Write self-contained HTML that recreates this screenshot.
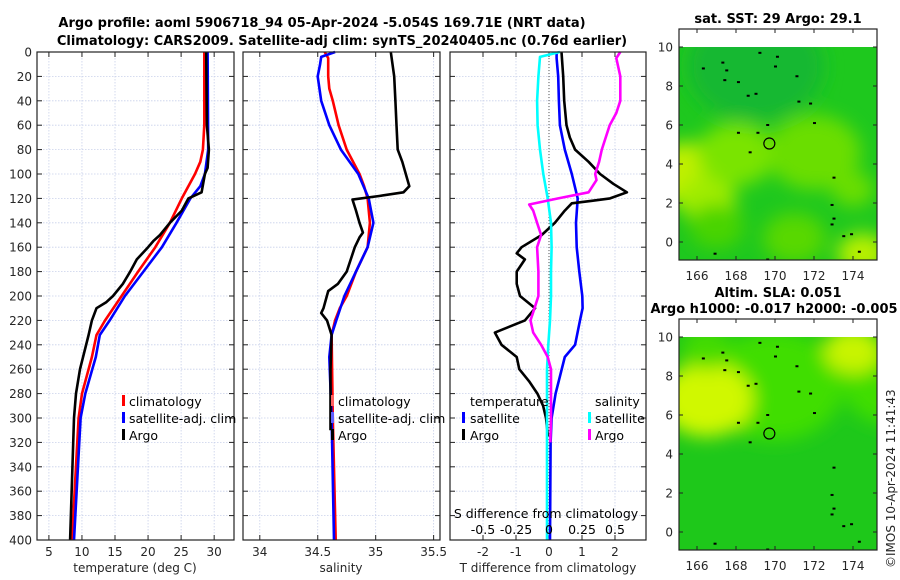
<!DOCTYPE html>
<html><head><meta charset="utf-8">
<style>
body{margin:0;background:#fff;}
svg{display:block;font-family:"DejaVu Sans","Liberation Sans",sans-serif;}
.tk{font-size:12px;fill:#262626;}
.tt{font-size:13px;font-weight:bold;fill:#000;}
.lg{font-size:12.5px;fill:#000;}
</style></head>
<body>
<svg id="c" width="900" height="580" viewBox="0 0 900 580">
<defs>
<filter id="blur" x="-20%" y="-20%" width="140%" height="140%"><feGaussianBlur stdDeviation="9"/></filter>
<clipPath id="m1c"><rect x="679" y="47" width="198" height="213"/></clipPath>
<clipPath id="m2c"><rect x="679" y="337" width="198" height="213"/></clipPath>
</defs>
<text class="tt" x="322" y="27" text-anchor="middle">Argo profile: aoml 5906718_94 05-Apr-2024 -5.054S 169.71E (NRT data)</text>
<text class="tt" x="342" y="45" text-anchor="middle">Climatology: CARS2009. Satellite-adj clim: synTS_20240405.nc (0.76d earlier)</text>
<g id="panels"></g>
<g id="maps"></g>
<text class="tk" x="0" y="0" transform="translate(895,568) rotate(-90)">©IMOS 10-Apr-2024 11:41:43</text>
</svg>
<script>
// ---------- data ----------
const depthTicks=[0,20,40,60,80,100,120,140,160,180,200,220,240,260,280,300,320,340,360,380,400];
const tTicks=[5,10,15,20,25,30];
const sTicks=[34,34.5,35,35.5];
const sTickLabels=["34","34.5","35","35.5"];
const dTicks=[-2,-1,0,1,2];
const dsTicks=[-0.5,-0.25,0,0.25,0.5];
const dsTickLabels=["-0.5","-0.25","0","0.25","0.5"];
// temperature profiles [depth, value]
const tClim=[[0,28.5],[60,28.5],[80,28.3],[90,27.9],[100,27.1],[120,25.1],[140,23.3],[160,21.1],[180,18.5],[200,16.0],[220,13.5],[232,12.2],[250,11.5],[280,10.0],[300,9.5],[400,8.5]];
const tSat=[[0,29.0],[80,29.1],[100,28.6],[110,27.9],[120,26.4],[140,24.3],[160,22.1],[180,19.3],[200,16.5],[220,14.2],[232,12.7],[250,12.1],[280,10.5],[300,9.8],[400,8.8]];
const tArgo=[[0,28.8],[60,28.9],[80,29.2],[95,29.0],[100,28.6],[115,28.1],[120,26.1],[130,25.1],[140,23.3],[150,21.8],[155,20.8],[160,20.0],[170,18.3],[180,17.3],[190,16.2],[200,14.7],[205,13.7],[210,12.2],[220,11.5],[232,11.0],[260,9.7],[280,9.1],[300,8.8],[400,8.2]];
// salinity profiles
const sClim=[[0,34.56],[5,34.59],[20,34.59],[30,34.60],[40,34.63],[60,34.68],[80,34.75],[100,34.86],[110,34.90],[120,34.93],[140,34.95],[160,34.93],[180,34.83],[200,34.75],[210,34.69],[220,34.65],[232,34.62],[300,34.63],[400,34.655]];
const sSat=[[0,34.65],[4,34.53],[10,34.52],[20,34.50],[40,34.53],[60,34.60],[80,34.70],[100,34.85],[120,34.94],[140,34.98],[160,34.93],[180,34.83],[200,34.73],[220,34.66],[232,34.62],[250,34.60],[300,34.62],[400,34.64]];
const sArgo=[[0,35.13],[20,35.16],[40,35.17],[60,35.18],[80,35.19],[90,35.23],[100,35.26],[110,35.29],[115,35.24],[118,35.03],[121,34.80],[130,34.83],[140,34.86],[148,34.89],[152,34.86],[160,34.82],[180,34.75],[190,34.675],[196,34.59],[210,34.55],[214,34.53],[220,34.58],[232,34.62],[260,34.61],[300,34.61],[310,34.61]];
// differences
const dTSat=[[0,0.23],[5,0.23],[20,0.28],[40,0.30],[60,0.33],[80,0.48],[100,0.69],[120,0.87],[140,0.82],[160,0.84],[180,0.92],[200,1.01],[210,1.02],[220,0.94],[240,0.79],[250,0.48],[280,0.2],[300,0.08],[320,0.05],[400,0.03]];
const dTArgo=[[0,0.38],[20,0.43],[40,0.46],[60,0.53],[70,0.63],[80,0.79],[90,1.2],[100,1.55],[108,1.95],[115,2.36],[120,1.85],[122,1.3],[124,0.69],[130,0.48],[140,0.18],[150,-0.22],[160,-0.83],[165,-0.98],[170,-0.73],[180,-0.98],[190,-0.98],[200,-0.88],[210,-0.42],[220,-0.73],[230,-1.64],[240,-1.44],[250,-0.98],[260,-0.9],[270,-0.6],[280,-0.35],[290,-0.18],[300,-0.09],[315,-0.03]];
const dSSat=[[0,0.083],[4,-0.068],[20,-0.08],[40,-0.09],[60,-0.086],[80,-0.068],[100,-0.043],[120,-0.01],[140,0.015],[160,0.02],[180,0.015],[200,0.015],[220,0.008],[240,-0.005],[260,-0.015],[300,-0.015],[400,-0.015]];
const dSArgo=[[0,0.54],[5,0.51],[20,0.54],[40,0.54],[50,0.51],[60,0.46],[80,0.40],[90,0.38],[100,0.35],[105,0.36],[115,0.30],[120,0.07],[125,-0.15],[130,-0.12],[140,-0.09],[150,-0.06],[160,-0.09],[180,-0.08],[200,-0.08],[210,-0.11],[220,-0.14],[230,-0.12],[240,-0.06],[250,-0.01],[260,0.015],[300,0.015],[320,0.01]];
// map data
const lonTicks=[166,168,170,172,174];
const latTicks=[0,2,4,6,8,10];
const argoLon=169.71, argoLat=5.05;
const sstBlobs=[[169,9,3.5,'#14b830'],[165.5,3.5,2.0,'#c0f000'],[166.5,2.2,1.5,'#a0ec00'],[168,4.5,2.0,'#7ae400'],[172,4.6,2.4,'#6ade00'],[174.5,-0.6,1.3,'#b8f000'],[171,0.2,1.6,'#58d800'],[167,0.8,1.4,'#48d400'],[174,2.7,1.1,'#6ade00']];
const slaBlobs=[[170,7.5,3.5,'#40de00'],[176,7.5,2.5,'#40de00'],[166.5,6.8,2.4,'#d0f800'],[174,9.3,1.5,'#c8f400'],[166.5,9.4,1.3,'#44dc00']];
const coast=[[167.3,9.2],[167.5,8.8],[168.1,8.2],[168.6,7.5],[169.0,7.6],[169.6,6.0],[171.2,7.2],[171.8,7.1],[171.1,8.5],[170.1,9.5],[173.0,3.3],[172.9,1.9],[173.0,1.2],[172.9,0.9],[173.5,0.3],[173.9,0.4],[174.3,-0.5],[168.1,5.6],[168.7,4.6],[169.1,5.6],[169.2,9.7],[166.3,8.9],[167.4,8.3],[166.9,-0.6],[169.6,-0.9],[170.0,9.0],[172.0,6.1]];

// ---------- helpers ----------
const NS="http://www.w3.org/2000/svg";
const G=document.getElementById('panels');
const M=document.getElementById('maps');
function mk(tag,attrs,parent){const e=document.createElementNS(NS,tag);for(const k in attrs)e.setAttribute(k,attrs[k]);(parent||G).appendChild(e);return e;}
const Y0=52,Y1=540;
function yD(d){return Y0+(d/400)*(Y1-Y0);}
function lin(d0,d1,r0,r1){return v=>r0+(v-d0)/(d1-d0)*(r1-r0);}
const panels=[
 {x0:37,x1:234,dom:[3.2,33.0],name:'temperature-panel'},
 {x0:243,x1:440,dom:[33.855,35.555],name:'salinity-panel'},
 {x0:450,x1:646,dom:[-3.0,2.94],name:'difference-panel'}];
panels.forEach(p=>p.sx=lin(p.dom[0],p.dom[1],p.x0,p.x1));
const sxDS=lin(-3.0/4,2.94/4,450,646);

function frame(p,ticks,labels,showY){
  const g=mk('g',{});
  
  
  depthTicks.forEach(d=>{const y=yD(d);
    const gl=mk('line',{x1:p.x0,x2:p.x1,y1:y,y2:y,stroke:'#c8d0ea','stroke-width':0.8,'stroke-dasharray':'1.5,1.5'},g);
    
    mk('line',{x1:p.x0,x2:p.x0+5,y1:y,y2:y,stroke:'#222'},g);
    mk('line',{x1:p.x1-5,x2:p.x1,y1:y,y2:y,stroke:'#222'},g);
    if(showY){const t=mk('text',{x:p.x0-5,y:y+4.5,class:'tk','text-anchor':'end'},g);t.textContent=d;
      }
  });
  ticks.forEach((v,i)=>{const x=p.sx(v);
    const gl=mk('line',{x1:x,x2:x,y1:Y0,y2:Y1,stroke:'#c8d0ea','stroke-width':0.8,'stroke-dasharray':'1.5,1.5'},g);
    
    mk('line',{x1:x,x2:x,y1:Y1-5,y2:Y1,stroke:'#222'},g);
    mk('line',{x1:x,x2:x,y1:Y0,y2:Y0+5,stroke:'#222'},g);
    const t=mk('text',{x:x,y:556,class:'tk','text-anchor':'middle'},g);t.textContent=labels[i];
    
  });
  return g;
}
function border(p,g){mk('rect',{x:p.x0,y:Y0,width:p.x1-p.x0,height:Y1-Y0,fill:'none',stroke:'#222','stroke-width':1.2},g);}
function line(data,sx,color,name,g){
  const pts=data.map(r=>sx(r[1]).toFixed(1)+','+yD(r[0]).toFixed(1)).join(' ');
  const l=mk('polyline',{points:pts,fill:'none',stroke:color,'stroke-width':2.6,'stroke-linejoin':'round'},g);
  
  
}
function txt(x,y,s,cls,anchor,name,g){const t=mk('text',{x:x,y:y,class:cls,'text-anchor':anchor||'start'},g);t.textContent=s;
  return t;}
function legMark(x,y,color,g){mk('rect',{x:x,y:y-11,width:3,height:11,fill:color},g);}

// panel 1
let p=panels[0], g=frame(p,tTicks,tTicks.map(String),true);
line(tClim,p.sx,'#ff0000','temp-climatology-line',g);
line(tSat,p.sx,'#0000ff','temp-satellite-line',g);
line(tArgo,p.sx,'#000000','temp-argo-line',g);
border(p,g);
legMark(122,406,'#ff0000',g);txt(129,406,'climatology','lg','start','legend-climatology',g);
legMark(122,423,'#0000ff',g);txt(129,423,'satellite-adj. clim','lg','start','legend-satellite-adj',g);
legMark(122,440,'#000',g);txt(129,440,'Argo','lg','start','legend-argo',g);
txt(135,572,'temperature (deg C)','tk','middle','temperature-axis-title',g);

// panel 2
p=panels[1]; g=frame(p,sTicks,sTickLabels,false);
line(sClim,p.sx,'#ff0000','sal-climatology-line',g);
line(sSat,p.sx,'#0000ff','sal-satellite-line',g);
line(sArgo,p.sx,'#000000','sal-argo-line',g);
border(p,g);
legMark(331,406,'#ff6060',g);txt(338,406,'climatology','lg','start','legend-climatology-2',g);
legMark(331,423,'#6060ff',g);txt(338,423,'satellite-adj. clim','lg','start','legend-satellite-adj-2',g);
legMark(331,440,'#000',g);txt(338,440,'Argo','lg','start','legend-argo-2',g);
txt(341,572,'salinity','tk','middle','salinity-axis-title',g);

// panel 3
p=panels[2]; g=frame(p,dTicks,dTicks.map(String),false);
mk('line',{x1:p.sx(0),x2:p.sx(0),y1:Y0,y2:Y1,stroke:'#555','stroke-width':1,'stroke-dasharray':'1,2'},g);
line(dTSat,p.sx,'#0000ff','dT-satellite-line',g);
line(dTArgo,p.sx,'#000000','dT-argo-line',g);
line(dSSat,sxDS,'#00ffff','dS-satellite-line',g);
line(dSArgo,sxDS,'#ff00ff','dS-argo-line',g);
border(p,g);
txt(470,406,'temperature','lg','start','legend-temperature-header',g);
legMark(462,423,'#0000ff',g);txt(470,423,'satellite','lg','start','legend-dT-satellite',g);
legMark(462,440,'#000',g);txt(470,440,'Argo','lg','start','legend-dT-argo',g);
txt(595,406,'salinity','lg','start','legend-salinity-header',g);
legMark(588,423,'#00ffff',g);txt(595,423,'satellite','lg','start','legend-dS-satellite',g);
legMark(588,440,'#ff00ff',g);txt(595,440,'Argo','lg','start','legend-dS-argo',g);
txt(546,518,'S difference from climatology','lg','middle','s-diff-axis-title',g);
dsTicks.forEach((v,i)=>txt(sxDS(v),534,dsTickLabels[i],'lg','middle','s-diff-tick-label',g));
txt(548,572,'T difference from climatology','tk','middle','t-diff-axis-title',g);

// ---------- maps ----------
const lonX=lin(166,174,697,853);
function drawMap(top,lat0y,base,blobs,clip,name){
  const latY=lin(0,10,lat0y,lat0y-195);
  const g=mk('g',{},M);
  
  
  mk('rect',{x:679,y:top,width:198,height:lat0y+18-top,fill:'#fff'},g);
  const cg=mk('g',{'clip-path':'url(#'+clip+')'},g);
  mk('rect',{x:679,y:latY(10.1),width:198,height:220,fill:base},cg);
  const bg=mk('g',{filter:'url(#blur)'},cg);
  blobs.forEach(b=>mk('ellipse',{cx:lonX(b[0]),cy:latY(b[1]),rx:b[2]*19.5,ry:b[2]*19.5*0.8,fill:b[3]},bg));
  coast.forEach(c=>{const d=mk('rect',{x:lonX(c[0])-1,y:latY(c[1])-1,width:3,height:2,fill:'#000'},cg);
    });
  const ci=mk('circle',{cx:lonX(argoLon),cy:latY(argoLat),r:5.5,fill:'none',stroke:'#000','stroke-width':1.2},g);
  
  mk('rect',{x:679,y:top,width:198,height:lat0y+18-top,fill:'none',stroke:'#222','stroke-width':1.2},g);
  lonTicks.forEach(v=>{const x=lonX(v);mk('line',{x1:x,x2:x,y1:lat0y+18,y2:lat0y+14,stroke:'#222'},g);
    mk('line',{x1:x,x2:x,y1:top,y2:top+4,stroke:'#222'},g);
    txt(x,lat0y+38,String(v),'tk','middle','lon-tick-label',g);});
  latTicks.forEach(v=>{const y=latY(v);mk('line',{x1:679,x2:683,y1:y,y2:y,stroke:'#222'},g);
    mk('line',{x1:873,x2:877,y1:y,y2:y,stroke:'#222'},g);
    txt(673,y+4.5,String(v),'tk','end','lat-tick-label',g);});
  return g;
}
let mg=drawMap(29,242,'#1ec81e',sstBlobs,'m1c','sst-map');
txt(778,23,'sat. SST: 29 Argo: 29.1','tt','middle','sst-map-title',mg);
mg=drawMap(319,532,'#1ec81a',slaBlobs,'m2c','sla-map');
txt(778,297,'Altim. SLA: 0.051','tt','middle','sla-map-title',mg);
txt(774,313,'Argo h1000: -0.017 h2000: -0.005','tt','middle','sla-map-title-2',mg);
</script>
</body></html>
